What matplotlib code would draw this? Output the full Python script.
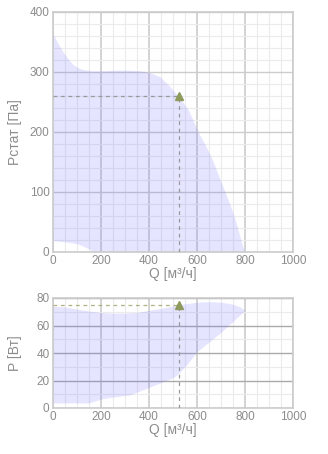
import matplotlib
matplotlib.use("Agg")
import matplotlib.pyplot as plt
import numpy as np

plt.rcParams['font.family'] = ['Liberation Sans', 'DejaVu Sans']

# Top chart: static pressure envelope
q_top_upper = [0, 15, 29, 43, 57, 71, 85, 105, 126, 160, 196, 260, 321, 365, 404, 446, 487, 523, 564, 605, 635, 665, 690, 717, 740, 760, 778, 790, 800]
p_top_upper = [364, 352, 342, 333, 325, 318, 312, 307, 304, 302, 302, 303, 303, 302, 299, 292, 276, 259, 237, 200, 178, 153, 127, 100, 76, 53, 27, 10, 0]
q_top_lower = [0, 50, 100, 130, 150, 170, 800]
p_top_lower = [19, 17, 14, 9, 5, 0, 0]

# Bottom chart: power envelope
q_bot_upper = [0, 50, 100, 150, 200, 250, 300, 350, 400, 450, 523, 560, 600, 650, 700, 750, 780, 800]
p_bot_upper = [74, 73.5, 72, 70.5, 69.5, 69, 69, 69.5, 71, 72.5, 75, 76, 77, 77.3, 77, 75.5, 73.5, 71]
q_bot_lower = [0, 50, 100, 150, 200, 250, 320, 400, 450, 500, 523, 560, 600, 650, 700, 750, 800]
p_bot_lower = [3.7, 3.7, 3.7, 3.7, 6.5, 8, 9.5, 15, 18.5, 22, 25, 32, 41, 48, 55, 63, 71]

op_q = 523
op_p_top = 260
op_p_bot = 75

x_ticks = [0, 200, 400, 600, 800, 1000]
y_ticks_top = [0, 100, 200, 300, 400]
y_ticks_bot = [0, 20, 40, 60, 80]

fill_rgba = (0.4, 0.4, 1.0, 0.17)
major_col = "#cccccc"
minor_col = "#ebebeb"
text_col = "#8c8c8c"
marker_col = "#8c9a5c"

fig = plt.figure(figsize=(3.28, 4.54), dpi=100)
ax1 = fig.add_axes([53/328, 1-252/454, 240/328, 240/454])
ax2 = fig.add_axes([53/328, 1-408/454, 240/328, 110/454])

def style(ax, yticks, yminor, ylabel, hmajor_col):
    ax.set_xlim(0, 1000)
    ax.set_ylim(yticks[0], yticks[-1])
    ax.set_xticks(x_ticks)
    ax.set_yticks(yticks)
    ax.set_xticks(np.arange(0, 1001, 50), minor=True)
    ax.set_yticks(np.arange(yticks[0], yticks[-1] + 0.1, yminor), minor=True)
    ax.grid(True, which="minor", color=minor_col, lw=0.8, zorder=0)
    ax.grid(True, which="major", axis="x", color=major_col, lw=1.2, zorder=0)
    ax.grid(True, which="major", axis="y", color=hmajor_col, lw=1.0, zorder=0)
    ax.set_axisbelow(True)
    for s in ax.spines.values():
        s.set_color(major_col)
        s.set_linewidth(1.2)
    ax.tick_params(which="both", length=0, labelsize=8.5, labelcolor=text_col, pad=2.5)
    ax.set_xlabel("Q [м³/ч]", fontsize=10, color=text_col, labelpad=0)
    ax.set_ylabel(ylabel, fontsize=10, color=text_col)
    ax.yaxis.set_label_coords(-31/240, 0.5)

style(ax1, y_ticks_top, 20, "Pстат [Па]", major_col)
style(ax2, y_ticks_bot, 10, "P [Вт]", "#aaaaaa")

# top fill
qt = np.linspace(0, 800, 400)
ut = np.interp(qt, q_top_upper, p_top_upper)
lt = np.interp(qt, q_top_lower, p_top_lower)
ax1.fill_between(qt, lt, ut, color=fill_rgba, lw=0, zorder=1)
ax1.plot([0, op_q], [op_p_top, op_p_top], ls=(0, (3, 3)), color="#999999", lw=0.9, zorder=3)
ax1.plot([op_q, op_q], [0, op_p_top], ls=(0, (3, 3)), color="#999999", lw=0.9, zorder=3)
ax1.plot([op_q], [op_p_top], marker="^", ms=6, color=marker_col, zorder=4)

qb = np.linspace(0, 800, 400)
ub = np.interp(qb, q_bot_upper, p_bot_upper)
lb = np.interp(qb, q_bot_lower, p_bot_lower)
ax2.fill_between(qb, lb, ub, color=fill_rgba, lw=0, zorder=1)
ax2.plot([0, op_q], [op_p_bot, op_p_bot], ls=(0, (3, 3)), color="#b0b080", lw=0.9, zorder=3)
ax2.plot([op_q, op_q], [0, op_p_bot], ls=(0, (3, 3)), color="#999999", lw=0.9, zorder=3)
ax2.plot([op_q], [op_p_bot], marker="^", ms=6, color=marker_col, zorder=4)

fig.savefig("out.png", dpi=100)
